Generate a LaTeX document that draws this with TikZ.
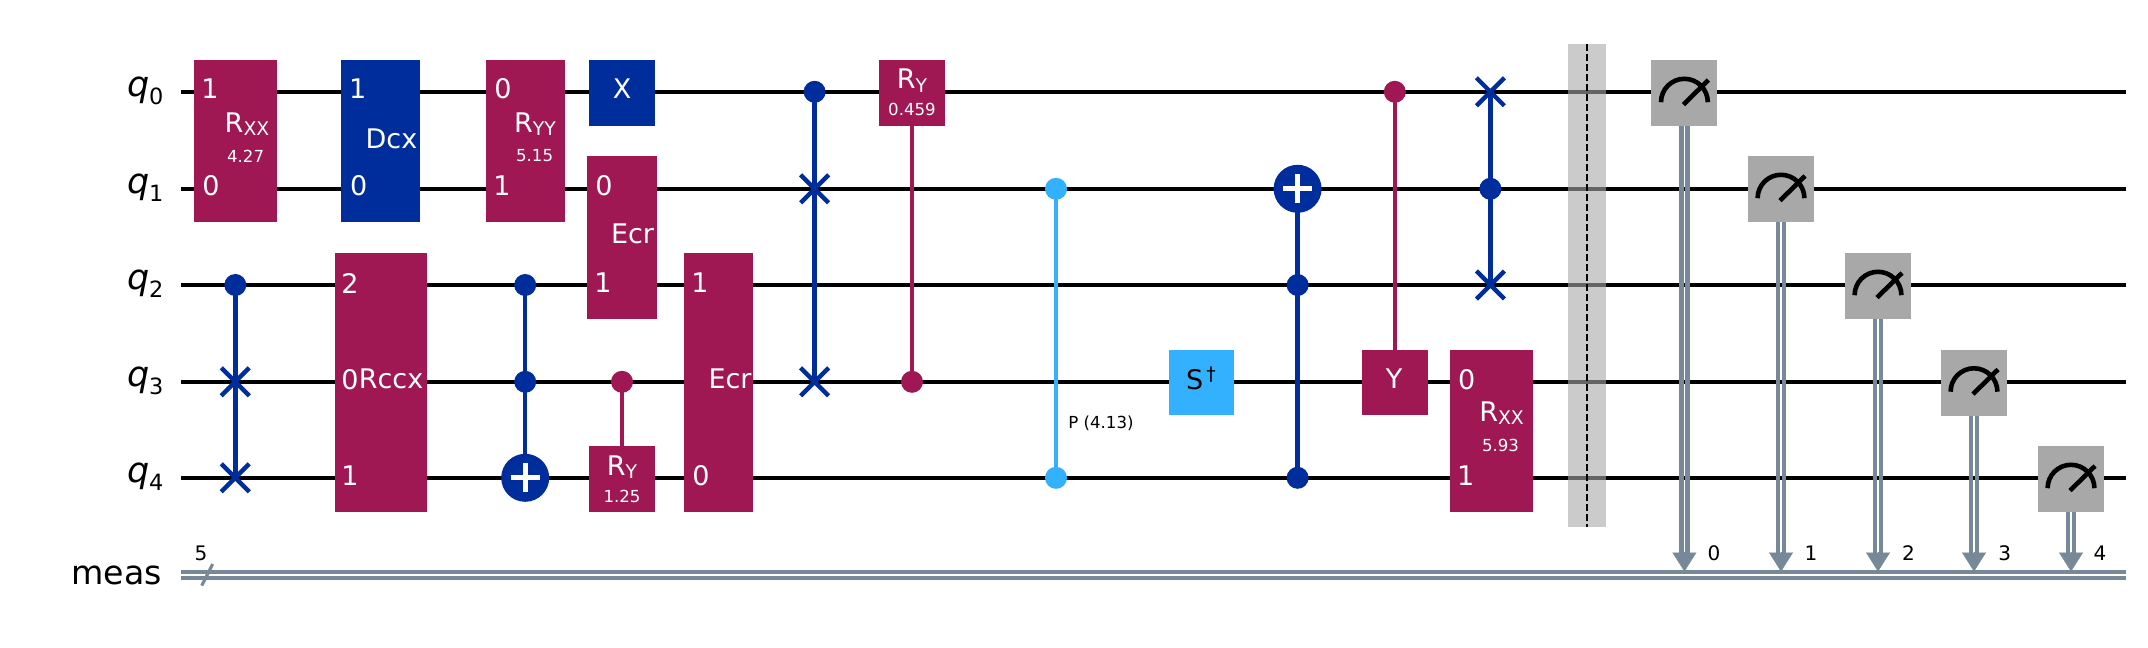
\documentclass[tikz,border=0pt]{standalone}
\usepackage{fontspec}
\setmainfont{DejaVu Sans}
\usepackage{xcolor}
\usepackage{tikz}
\usetikzlibrary{calc, positioning, arrows.meta, shapes.misc}
\definecolor{crimson}{HTML}{9F1853}
\definecolor{navy}{HTML}{002D9C}
\definecolor{skyblue}{HTML}{33B1FF}
\definecolor{metergray}{HTML}{A8A8A8}
\definecolor{slate}{HTML}{778899}
\pgfdeclarelayer{wires}
\pgfdeclarelayer{conn}
\pgfsetlayers{wires,conn,main}
\newcommand{\qname}[1]{\textit{q}\raisebox{-4pt}{\fontsize{11.2}{13}\selectfont #1}}
\newcommand{\Rsub}[1]{R\raisebox{-1.8pt}{\fontsize{9.4}{10}\selectfont #1}}
\tikzset{
    wire/.style={line width=2.3pt, black},
    creg/.style={line width=2.1pt, slate},
    cregTip/.style={line width=0.1pt, slate, fill=slate, -{Triangle[width=12pt, length=9.5pt]}},
    gate/.style={rectangle, fill=crimson, inner sep=0pt, outer sep=0pt},
    navyGate/.style={gate, fill=navy},
    skyGate/.style={gate, fill=skyblue},
    meter/.style={rectangle, fill=metergray, inner sep=0pt, outer sep=0pt, minimum width=33pt, minimum height=33pt,
        path picture={
            \draw[line width=2.3pt, black, shift={(path picture bounding box.center)}]
                (-11.7pt,-4.6pt) arc[start angle=180, end angle=0, radius=11.7pt]
                (-0.5pt,-5.8pt) -- (12pt,6.5pt);
        }},
    gateText/.style={font=\fontsize{13.5}{15}\selectfont, text=white, inner sep=0pt, outer sep=0pt},
    gateSub/.style={font=\fontsize{8.3}{9}\selectfont, text=white, inner sep=0pt, outer sep=0pt},
    smallText/.style={font=\fontsize{10}{12}\selectfont, inner sep=0pt, outer sep=0pt},
    wireName/.style={font=\fontsize{17.5}{19}\selectfont, anchor=base east, inner sep=0pt, outer sep=0pt},
    ctrl/.style={circle, fill=navy, inner sep=0pt, outer sep=0pt, minimum size=11pt},
    swapX/.style={cross out, draw=navy, line width=2.2pt, inner sep=0pt, outer sep=0pt, minimum size=14pt},
    xorTarget/.style={circle, fill=navy, inner sep=0pt, outer sep=0pt, minimum size=24pt,
        path picture={
            \draw[line width=2.6pt, white, shift={(path picture bounding box.center)}]
                (-7.2pt,0pt) -- (7.2pt,0pt) (0pt,-7.2pt) -- (0pt,7.2pt);
        }},
    navyLine/.style={line width=2.2pt, navy},
    crimsonLine/.style={line width=2.2pt, crimson},
    skyLine/.style={line width=2.2pt, skyblue},
    barrierBox/.style={rectangle, fill=metergray, fill opacity=0.6, inner sep=0pt, outer sep=0pt, minimum width=19pt, minimum height=241.5pt}
}
\begin{document}
\begin{tikzpicture}[x=0.5pt, y=-0.5pt]
    \useasboundingbox (0,0) rectangle (2148,648);

    % quantum wires
    \foreach \i/\y in {0/91.8, 1/188.8, 2/285, 3/381.8, 4/477.8} {
        \coordinate (w\i) at (181,\y);
        \coordinate (e\i) at (2126,\y);
        \node[wireName] (name\i) at (163.5,\y+4.2) {\qname{\i}};
        \begin{pgfonlayer}{wires}
            \draw[wire] (w\i) -- (e\i);
        \end{pgfonlayer}
    }

    % classical register
    \coordinate (regA) at (181,572);
    \coordinate (regB) at (2126,572);
    \coordinate (regC) at (181,578);
    \coordinate (regD) at (2126,578);
    \draw[creg] (regA) -- (regB);
    \draw[creg] (regC) -- (regD);
    \coordinate (slashA) at (201.7,585.7);
    \coordinate (slashB) at (212.7,564);
    \draw[creg, line width=1.6pt] (slashA) -- (slashB);
    \node[wireName, font=\fontsize{16.6}{19}\selectfont] (meas) at (162,584.5) {meas};
    \node[smallText] (regSize) at (201,553) {5};

    % first column
    \node[gate, minimum width=41.5pt, minimum height=81pt] (Rxx) at (235.3,141) {};
    \node[gateText] (RxxOne) at (210,89) {1};
    \node[gateText] (RxxZero) at (211,186) {0};
    \node[gateText] (RxxName) at (247,124) {\Rsub{XX}};
    \node[gateSub] (RxxVal) at (245.6,156) {4.27};
    \node[ctrl] (SwC) at (235.3,285) {};
    \node[swapX] (SwA) at (235.3,381.8) {};
    \node[swapX] (SwB) at (235.3,477.8) {};
    \begin{pgfonlayer}{conn}
        \draw[navyLine] (SwC.center) -- (SwB.center);
    \end{pgfonlayer}

    % Dcx and Rccx
    \node[navyGate, minimum width=39.5pt, minimum height=81pt] (Dcx) at (380.6,141) {};
    \node[gateText] (DcxOne) at (357.7,89) {1};
    \node[gateText] (DcxZero) at (358.6,186) {0};
    \node[gateText] (DcxName) at (391.5,138.4) {Dcx};
    \node[gate, minimum width=46pt, minimum height=129.5pt] (Rccx) at (381,382.5) {};
    \node[gateText] (RccxTwo) at (350,283) {2};
    \node[gateText] (RccxZero) at (350,379.3) {0};
    \node[gateText] (RccxOne) at (350,476) {1};
    \node[gateText] (RccxName) at (391,379.3) {Rccx};

    % Ryy and the Toffoli below it
    \node[gate, minimum width=39.5pt, minimum height=81pt] (Ryy) at (525.2,141) {};
    \node[gateText] (RyyZero) at (503,89) {0};
    \node[gateText] (RyyOne) at (502,186) {1};
    \node[gateText] (RyyName) at (535,124) {\Rsub{YY}};
    \node[gateSub] (RyyVal) at (534.6,156) {5.15};
    \node[ctrl] (CxA) at (525.2,285) {};
    \node[ctrl] (CxB) at (525.2,381.8) {};
    \node[xorTarget] (CxT) at (525.2,477.8) {};
    \begin{pgfonlayer}{conn}
        \draw[navyLine] (CxA.center) -- (CxT.center);
    \end{pgfonlayer}

    % X, Ecr, controlled Ry
    \node[navyGate, minimum width=33pt, minimum height=33pt] (Xg) at (622,93) {};
    \node[gateText] (XgName) at (622,89) {X};
    \node[gate, minimum width=35pt, minimum height=81.5pt] (EcrA) at (622,237.4) {};
    \node[gateText] (EcrAZero) at (604,186) {0};
    \node[gateText] (EcrAOne) at (603,283) {1};
    \node[gateText] (EcrAName) at (632.5,234) {Ecr};
    \node[ctrl, fill=crimson] (CryA) at (622,381.8) {};
    \node[gate, minimum width=33pt, minimum height=33pt] (RyA) at (622,479) {};
    \node[gateText] (RyAName) at (622,467) {\Rsub{Y}};
    \node[gateSub] (RyAVal) at (622,496) {1.25};
    \begin{pgfonlayer}{conn}
        \draw[crimsonLine] (CryA.center) -- (RyA.center);
    \end{pgfonlayer}
    \node[gate, minimum width=34.5pt, minimum height=129.5pt] (EcrB) at (718.5,382.5) {};
    \node[gateText] (EcrBOne) at (700,283) {1};
    \node[gateText] (EcrBZero) at (701,476) {0};
    \node[gateText] (EcrBName) at (730,379.3) {Ecr};

    % controlled swap
    \node[ctrl] (CswA) at (814.6,91.8) {};
    \node[swapX] (CswB) at (814.6,188.8) {};
    \node[swapX] (CswC) at (814.6,381.8) {};
    \begin{pgfonlayer}{conn}
        \draw[navyLine] (CswA.center) -- (CswC.center);
    \end{pgfonlayer}

    % Ry with control on q3
    \node[gate, minimum width=33pt, minimum height=33pt] (RyB) at (912,93) {};
    \node[gateText] (RyBName) at (912,80.6) {\Rsub{Y}};
    \node[gateSub] (RyBVal) at (912,109.5) {0.459};
    \node[ctrl, fill=crimson] (CryB) at (912,381.8) {};
    \begin{pgfonlayer}{conn}
        \draw[crimsonLine] (RyB.center) -- (CryB.center);
    \end{pgfonlayer}

    % controlled phase
    \node[ctrl, fill=skyblue] (CpA) at (1056,188.8) {};
    \node[ctrl, fill=skyblue] (CpB) at (1056,477.8) {};
    \begin{pgfonlayer}{conn}
        \draw[skyLine] (CpA.center) -- (CpB.center);
    \end{pgfonlayer}
    \node[gateSub, text=black] (CpVal) at (1101,423.5) {P (4.13)};

    % Sdg
    \node[skyGate, minimum width=32.5pt, minimum height=32.5pt] (Sdg) at (1201.4,382.2) {};
    \node[gateText, text=black] (SdgName) at (1201,378) {S\kern1.5pt\raisebox{4.5pt}{\fontsize{9.4}{10}\selectfont †}};

    % second Toffoli
    \node[xorTarget] (CcxT) at (1297.6,188.8) {};
    \node[ctrl] (CcxA) at (1297.6,285) {};
    \node[ctrl] (CcxB) at (1297.6,477.8) {};
    \begin{pgfonlayer}{conn}
        \draw[navyLine] (CcxT.center) -- (CcxB.center);
    \end{pgfonlayer}

    % controlled Y
    \node[ctrl, fill=crimson] (CyA) at (1394.8,91.8) {};
    \node[gate, minimum width=33pt, minimum height=32.5pt] (Yg) at (1394.8,382.2) {};
    \node[gateText] (YgName) at (1394,379) {Y};
    \begin{pgfonlayer}{conn}
        \draw[crimsonLine] (CyA.center) -- (Yg.center);
    \end{pgfonlayer}

    % last swap and Rxx
    \node[swapX] (FrA) at (1490.4,91.8) {};
    \node[ctrl] (FrB) at (1490.4,188.8) {};
    \node[swapX] (FrC) at (1490.4,285) {};
    \begin{pgfonlayer}{conn}
        \draw[navyLine] (FrA.center) -- (FrC.center);
    \end{pgfonlayer}
    \node[gate, minimum width=41.5pt, minimum height=81pt] (RxxB) at (1491.5,431) {};
    \node[gateText] (RxxBZero) at (1466.6,379.3) {0};
    \node[gateText] (RxxBOne) at (1465.7,476) {1};
    \node[gateText] (RxxBName) at (1501.5,413) {\Rsub{XX}};
    \node[gateSub] (RxxBVal) at (1500.5,445.5) {5.93};

    % barrier
    \node[barrierBox] (Bar) at (1587,285.5) {};
    \draw[line width=1.3pt, black, dash pattern=on 3.7pt off 1.3pt] (Bar.north) -- (Bar.south);

    % measurements
    \foreach \i/\x/\y/\v/\lx in {0/1684.4/93/91.8/1714, 1/1781/189/188.8/1811, 2/1878/286/285/1908.5, 3/1974/382.5/381.8/2004.6, 4/2071/479/477.8/2100} {
        \node[meter] (M\i) at (\x,\y) {};
        \coordinate (T\i) at (\x,571.5);
        \draw[creg] ([xshift=-1.5pt]M\i.south) -- ([xshift=-1.5pt,yshift=8pt]T\i);
        \draw[creg] ([xshift=1.5pt]M\i.south) -- ([xshift=1.5pt,yshift=8pt]T\i);
        \draw[cregTip] ([yshift=10pt]T\i) -- (T\i);
        \node[smallText] (bit\i) at (\lx,553) {\i};
    }
\end{tikzpicture}
\end{document}
